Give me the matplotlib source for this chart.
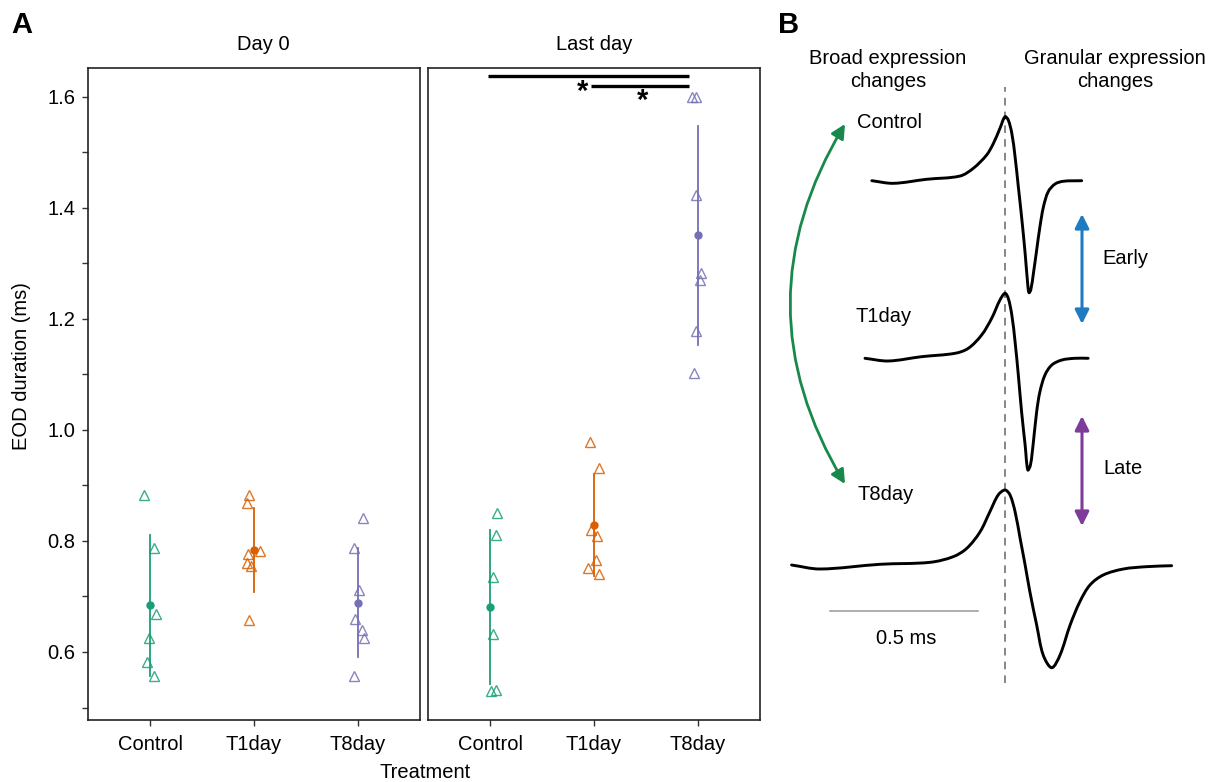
import numpy as np
import matplotlib
matplotlib.use("Agg")
import matplotlib.pyplot as plt
from matplotlib.patches import FancyArrowPatch, PathPatch
from matplotlib.path import Path

plt.rcParams['font.family'] = ['Liberation Sans', 'DejaVu Sans']

# ---------------- data (panel A) ----------------
categories = ["Control", "T1day", "T8day"]
facets = ["Day 0", "Last day"]

day0_control = [0.882, 0.788, 0.669, 0.625, 0.582, 0.557]
day0_t1day = [0.882, 0.869, 0.777, 0.782, 0.761, 0.755, 0.658]
day0_t8day = [0.842, 0.788, 0.712, 0.660, 0.640, 0.625, 0.557]
last_control = [0.851, 0.811, 0.735, 0.633, 0.530, 0.531]
last_t1day = [0.979, 0.932, 0.820, 0.809, 0.766, 0.752, 0.741]
last_t8day = [1.600, 1.600, 1.423, 1.282, 1.270, 1.178, 1.102]

# horizontal jitter of the points (category units)
jit_day0_control = [-0.06, 0.04, 0.06, -0.01, -0.03, 0.04]
jit_day0_t1day = [-0.05, -0.07, -0.06, 0.06, -0.07, -0.03, -0.05]
jit_day0_t8day = [0.05, -0.04, 0.015, -0.025, 0.04, 0.06, -0.04]
jit_last_control = [0.065, 0.055, 0.025, 0.025, 0.005, 0.055]
jit_last_t1day = [-0.04, 0.05, -0.03, 0.03, 0.02, -0.06, 0.05]
jit_last_t8day = [-0.06, -0.02, -0.02, 0.035, 0.025, -0.02, -0.04]

yticks = [0.5, 0.6, 0.7, 0.8, 0.9, 1.0, 1.1, 1.2, 1.3, 1.4, 1.5, 1.6]
yticklabels = ["", "0.6", "", "0.8", "", "1.0", "", "1.2", "", "1.4", "", "1.6"]

# ---------------- data (panel B waveforms: time ms, normalised amplitude) ----------------
control_t = [-0.450, -0.377, -0.265, -0.152, -0.107, -0.062, -0.039, -0.017, 0.0, 0.011, 0.023,
             0.034, 0.045, 0.056, 0.068, 0.077, 0.081, 0.087, 0.096, 0.107, 0.118, 0.130, 0.146,
             0.169, 0.197, 0.259]
control_a = [0.0, -0.041, 0.022, 0.073, 0.194, 0.402, 0.584, 0.819, 1.0, 0.948, 0.740, 0.375,
             -0.094, -0.563, -1.134, -1.630, -1.750, -1.708, -1.447, -1.083, -0.719, -0.406,
             -0.172, -0.052, -0.009, 0.0]
t1day_t = [-0.473, -0.394, -0.282, -0.169, -0.124, -0.079, -0.045, -0.017, 0.0, 0.011, 0.023,
           0.034, 0.045, 0.056, 0.068, 0.077, 0.086, 0.096, 0.107, 0.118, 0.135, 0.158, 0.192,
           0.236, 0.281]
t1day_a = [0.0, -0.042, 0.025, 0.078, 0.156, 0.364, 0.625, 0.911, 1.016, 0.938, 0.677, 0.259,
           -0.261, -0.834, -1.355, -1.745, -1.667, -1.303, -0.834, -0.522, -0.261, -0.105,
           -0.027, 0.0, 0.0]
t8day_t = [-0.721, -0.625, -0.422, -0.253, -0.175, -0.129, -0.084, -0.051, -0.023, 0.0, 0.017,
           0.034, 0.051, 0.068, 0.084, 0.107, 0.129, 0.158, 0.186, 0.220, 0.253, 0.287, 0.332,
           0.400, 0.479, 0.563]
t8day_a = [0.0, -0.0625, 0.011, 0.042, 0.130, 0.261, 0.520, 0.833, 1.094, 1.172, 1.094, 0.833,
           0.417, 0.0, -0.417, -0.938, -1.406, -1.605, -1.406, -0.938, -0.573, -0.313, -0.156,
           -0.0625, -0.026, -0.011]

colors = ["#1b9e77", "#d95f02", "#7570b3"]

W, H = 1216, 782
fig = plt.figure(figsize=(W / 100, H / 100), dpi=100)


def fx(px):
    return px / W


def fy(py):
    return 1 - py / H


ax1 = fig.add_axes([fx(88), fy(720), 332 / W, 652 / H])
ax2 = fig.add_axes([fx(428), fy(720), 332 / W, 652 / H])

panels = [
    (ax1, [day0_control, day0_t1day, day0_t8day], [jit_day0_control, jit_day0_t1day, jit_day0_t8day]),
    (ax2, [last_control, last_t1day, last_t8day], [jit_last_control, jit_last_t1day, jit_last_t8day]),
]

for ax, groups, jits in panels:
    for i, (vals, jit, col) in enumerate(zip(groups, jits, colors)):
        xpos = i + 1
        v = np.array(vals)
        m = v.mean()
        sd = v.std(ddof=1)
        ax.plot([xpos, xpos], [m - sd, m + sd], color=col, lw=1.3, zorder=2)
        ax.plot(xpos + np.array(jit), v, linestyle='none', marker='^', markersize=6.5,
                markerfacecolor='none', markeredgecolor=col, markeredgewidth=1.0, alpha=0.85, zorder=3)
        ax.plot([xpos], [m], marker='o', markersize=5, color=col, zorder=4)
    ax.set_xlim(0.4, 3.6)
    ax.set_ylim(0.4775, 1.652)
    ax.set_xticks([1, 2, 3])
    ax.set_xticklabels(categories, fontsize=14.5)
    for sp in ax.spines.values():
        sp.set_linewidth(1.2)
        sp.set_color('#222222')
    ax.tick_params(axis='x', length=4, width=1, colors='#333333', labelcolor='black', pad=7)

ax1.set_yticks(yticks)
ax1.set_yticklabels(yticklabels, fontsize=14.5)
ax1.tick_params(axis='y', length=4, width=1, colors='#333333', labelcolor='black', pad=5)
ax2.set_yticks([])

# strip titles
fig.text(fx(263), fy(45), facets[0], ha='center', va='center', fontsize=14.5)
fig.text(fx(594), fy(45), facets[1], ha='center', va='center', fontsize=14.5)

# significance annotations (Last day panel)
ax2.plot([0.98, 2.92], [1.638, 1.638], color='black', lw=2.4, clip_on=False, solid_capstyle='butt')
ax2.plot([1.97, 2.92], [1.620, 1.620], color='black', lw=2.4, clip_on=False, solid_capstyle='butt')
ax2.text(1.89, 1.594, "*", ha='center', va='baseline', fontsize=21, fontweight='bold')
ax2.text(2.47, 1.578, "*", ha='center', va='baseline', fontsize=21, fontweight='bold')

# axis labels
fig.text(fx(22), fy(366), "EOD duration (ms)", rotation=90, ha='center', va='center', fontsize=14.5)
fig.text(fx(425), fy(772), "Treatment", ha='center', va='center', fontsize=14.5)

# panel letters
fig.text(fx(22), fy(25), "A", ha='center', va='center', fontsize=21, fontweight='bold')
fig.text(fx(789), fy(25), "B", ha='center', va='center', fontsize=21, fontweight='bold')

# ---------------- panel B ----------------
axb = fig.add_axes([fx(780), 0, 436 / W, 1])
axb.axis('off')
PX_MS = 296.0
PX_AMP = 64.0


def tx(px):
    return (px - 1005) / PX_MS


def ay(py):
    return (H - py) / PX_AMP


axb.set_xlim(tx(780), tx(1216))
axb.set_ylim(ay(782), ay(0))


def smooth_path(x, y):
    """Chord-length Catmull-Rom curve through the given points, drawn as cubic Beziers."""
    P = np.column_stack([x, y]).astype(float)
    S = np.array([PX_MS, PX_AMP])
    n = len(P)
    L = np.linalg.norm(np.diff(P * S, axis=0), axis=1)
    tang = np.zeros_like(P)
    for i in range(n):
        if i == 0:
            tang[i] = (P[1] - P[0]) / L[0]
        elif i == n - 1:
            tang[i] = (P[-1] - P[-2]) / L[-1]
        else:
            tang[i] = (P[i + 1] - P[i - 1]) / (L[i - 1] + L[i])
    verts = [P[0]]
    codes = [Path.MOVETO]
    for i in range(n - 1):
        c1 = P[i] + tang[i] * L[i] / 3
        c2 = P[i + 1] - tang[i + 1] * L[i] / 3
        verts += [c1, c2, P[i + 1]]
        codes += [Path.CURVE4] * 3
    return Path(verts, codes)


waves = [(control_t, control_a, 180.7), (t1day_t, t1day_a, 358.3), (t8day_t, t8day_a, 565.0)]
for t, a, base_px in waves:
    path = smooth_path(t, np.array(a) + ay(base_px))
    axb.add_patch(PathPatch(path, facecolor='none', edgecolor='black', lw=2.1,
                            joinstyle='round', capstyle='round', zorder=3))

# dashed alignment line
axb.plot([0, 0], [ay(683), ay(87)], color='#666666', lw=1.1, dashes=(5, 4), zorder=2)

# scale bar
axb.plot([tx(830), tx(830) + 0.5], [ay(611), ay(611)], color='#999999', lw=1.1)
axb.text(tx(906), ay(638), "0.5 ms", ha='center', va='center', fontsize=14.5)

# labels
axb.text(tx(888), ay(70), "Broad expression\nchanges", ha='center', va='center', fontsize=14.5,
         linespacing=1.3)
axb.text(tx(1115), ay(70), "Granular expression\nchanges", ha='center', va='center', fontsize=14.5,
         linespacing=1.3)
axb.text(tx(857), ay(123), "Control", ha='left', va='center', fontsize=14.5)
axb.text(tx(855), ay(316), "T1day", ha='left', va='center', fontsize=14.5)
axb.text(tx(857), ay(495), "T8day", ha='left', va='center', fontsize=14.5)
axb.text(tx(1102), ay(258), "Early", ha='left', va='center', fontsize=14.5)
axb.text(tx(1103), ay(468), "Late", ha='left', va='center', fontsize=14.5)

# double arrows
for (y0, y1, col) in [(214, 324, '#1f7bc1'), (416, 526, '#7d3c98')]:
    arr = FancyArrowPatch((tx(1082), ay(y0)), (tx(1082), ay(y1)),
                          arrowstyle='<|-|>,head_length=6,head_width=3',
                          color=col, lw=2.2, mutation_scale=1.4, shrinkA=0, shrinkB=0)
    axb.add_patch(arr)

green_arrow = FancyArrowPatch((tx(845), ay(124)), (tx(845), ay(484)),
                              connectionstyle='arc3,rad=0.3',
                              arrowstyle='<|-|>,head_length=6,head_width=3',
                              color='#18894a', lw=2.0, mutation_scale=1.4, shrinkA=0, shrinkB=0)
axb.add_patch(green_arrow)

fig.savefig("out.png", dpi=100)
